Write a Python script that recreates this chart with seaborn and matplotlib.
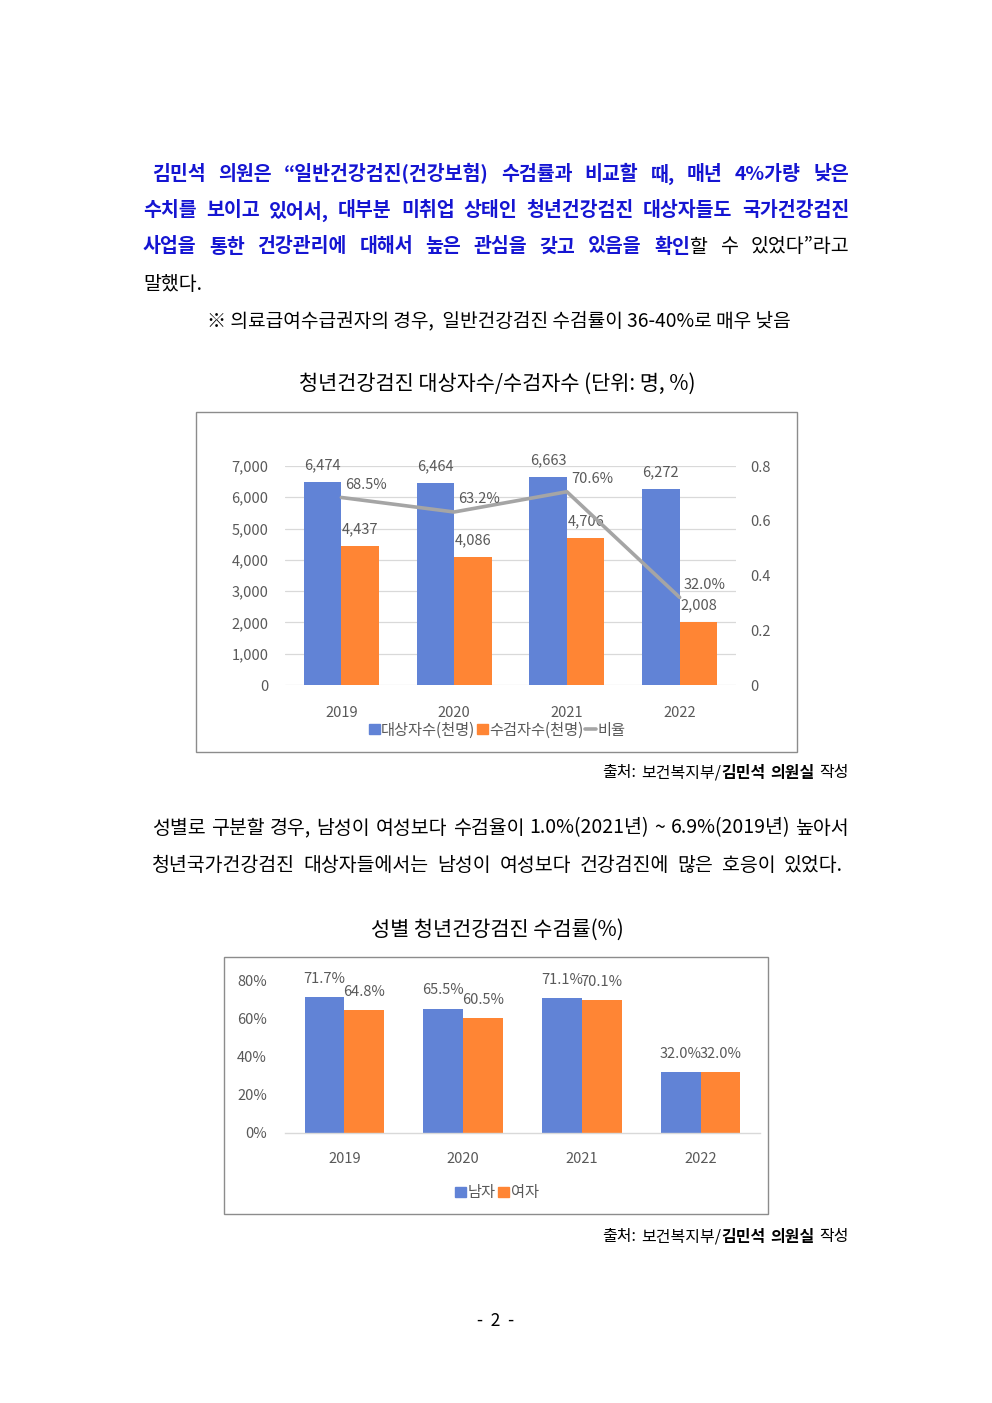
import numpy as np
import pandas as pd
import matplotlib
matplotlib.use('Agg')
import matplotlib.pyplot as plt
import seaborn as sns
from matplotlib.patches import Rectangle, Patch
from matplotlib.lines import Line2D
from matplotlib.ticker import FuncFormatter, PercentFormatter

# ---------------- data ----------------
years = ['2019', '2020', '2021', '2022']
targets = [6474, 6464, 6663, 6272]          # 대상자수(천명)
examined = [4437, 4086, 4706, 2008]         # 수검자수(천명)
ratio = [0.685, 0.632, 0.706, 0.320]        # 비율
series1 = ['대상자수(천명)', '수검자수(천명)']
ratio_name = '비율'
left_ticks = [0, 1000, 2000, 3000, 4000, 5000, 6000, 7000]
right_ticks = [0, 0.2, 0.4, 0.6, 0.8]

male_rate = [0.717, 0.655, 0.711, 0.320]
female_rate = [0.648, 0.605, 0.701, 0.320]
series2 = ['남자', '여자']
pct_ticks = [0, 0.2, 0.4, 0.6, 0.8]

# ---------------- style ----------------
W, H = 992, 1403
BLUE = '#6183D6'
ORANGE = '#FF8534'
GREY_LINE = '#A5A5A5'
TXT = '#595959'
TEXT_BLUE = '#1515D2'
CF = 10.5     # chart font size
LF = 11       # legend font size

sns.set_theme(style='white')
plt.rcParams['font.family'] = ['Noto Sans CJK KR', 'DejaVu Sans']

fig = plt.figure(figsize=(W / 100, H / 100), dpi=100)
fig.patch.set_facecolor('white')


def fx(x):
    return x / W


def fy(y):
    return 1 - y / H


def add_ax(l, t, r, b):
    return fig.add_axes([fx(l), fy(b), (r - l) / W, (b - t) / H])


def box(l, t, r, b):
    fig.add_artist(Rectangle((fx(l), fy(b)), (r - l) / W, (b - t) / H,
                             transform=fig.transFigure, fill=False,
                             ec='#8C8C8C', lw=1.0))


# ---------------- chart 1 ----------------
df1 = pd.DataFrame({'year': years * 2,
                    'value': targets + examined,
                    'series': [series1[0]] * 4 + [series1[1]] * 4})
ax1 = add_ax(285, 466, 736, 685)
sns.barplot(data=df1, x='year', y='value', hue='series', palette=[BLUE, ORANGE],
            width=0.667, saturation=1, ax=ax1, legend=False, edgecolor='none')
ax1.set_ylim(0, 7000)
ax1.set_yticks(left_ticks)
ax1.yaxis.set_major_formatter(FuncFormatter(lambda v, p: f'{v:,.0f}'))
ax1.yaxis.grid(True, color='#D9D9D9', lw=0.9)
ax1.set_axisbelow(True)
for s in ax1.spines.values():
    s.set_visible(False)
ax1.set_xlabel('')
ax1.set_ylabel('')
ax1.tick_params(axis='y', length=0, labelsize=CF, colors=TXT, pad=12)
ax1.tick_params(axis='x', length=0, labelsize=CF, colors=TXT, pad=15)
for cont, vals in zip(ax1.containers, [targets, examined]):
    ax1.bar_label(cont, labels=[f'{v:,}' for v in vals], padding=7,
                  fontsize=CF, color=TXT)

ax2 = ax1.twinx()
sns.lineplot(x=np.arange(len(years)), y=ratio, ax=ax2, color=GREY_LINE, lw=2.6)
ax2.set_ylim(0, 0.8)
ax2.set_yticks(right_ticks)
ax2.yaxis.set_major_formatter(FuncFormatter(lambda v, p: f'{v:g}'))
for s in ax2.spines.values():
    s.set_visible(False)
ax2.set_ylabel('')
ax2.grid(False)
ax2.tick_params(axis='y', length=0, labelsize=CF, colors=TXT, pad=10)
for i, r in enumerate(ratio):
    ax2.annotate(f'{r * 100:.1f}%', (i, r), xytext=(3, 9), textcoords='offset points',
                 ha='left', va='center', fontsize=CF, color=TXT)
ax1.set_xlim(-0.5, 3.5)

handles1 = [Patch(color=BLUE), Patch(color=ORANGE), Line2D([], [], color=GREY_LINE, lw=2.6)]
fig.legend(handles1, series1 + [ratio_name], loc='center',
           bbox_to_anchor=(fx(497), fy(730)), bbox_transform=fig.transFigure,
           ncol=3, frameon=False, fontsize=LF, labelcolor=TXT,
           handlelength=0.7, handleheight=0.6, handletextpad=0.1, columnspacing=0.1)
box(196, 412, 797, 752)

# ---------------- chart 2 ----------------
df2 = pd.DataFrame({'year': years * 2,
                    'rate': male_rate + female_rate,
                    'sex': [series2[0]] * 4 + [series2[1]] * 4})
ax3 = add_ax(285, 981, 760, 1133)
sns.barplot(data=df2, x='year', y='rate', hue='sex', palette=[BLUE, ORANGE],
            width=0.67, saturation=1, ax=ax3, legend=False, edgecolor='none')
ax3.set_ylim(0, 0.8)
ax3.set_xlim(-0.5, 3.5)
ax3.set_yticks(pct_ticks)
ax3.yaxis.set_major_formatter(PercentFormatter(1, decimals=0))
ax3.grid(False)
for k, s in ax3.spines.items():
    s.set_visible(k == 'bottom')
ax3.spines['bottom'].set_color('#D9D9D9')
ax3.spines['bottom'].set_linewidth(1.0)
ax3.set_xlabel('')
ax3.set_ylabel('')
ax3.tick_params(axis='y', length=0, labelsize=CF, colors=TXT, pad=13)
ax3.tick_params(axis='x', length=0, labelsize=CF, colors=TXT, pad=14)
for cont, vals in zip(ax3.containers, [male_rate, female_rate]):
    ax3.bar_label(cont, labels=[f'{v * 100:.1f}%' for v in vals], padding=8,
                  fontsize=CF, color=TXT)
handles2 = [Patch(color=BLUE), Patch(color=ORANGE)]
fig.legend(handles2, series2, loc='center',
           bbox_to_anchor=(fx(497), fy(1193)), bbox_transform=fig.transFigure,
           ncol=2, frameon=False, fontsize=LF, labelcolor=TXT,
           handlelength=0.7, handleheight=0.6, handletextpad=0.15, columnspacing=0.15)
box(224, 957, 768, 1214)

# ---------------- page text ----------------
renderer = fig.canvas.get_renderer()
BODY = 14
B = dict(color=TEXT_BLUE, fontweight='bold')
N = dict(color='black')
BK = dict(color='black', fontweight='bold')


def measure(s, size, st):
    t = fig.text(0, 0, s, fontsize=size, **st)
    w = t.get_window_extent(renderer).width
    t.remove()
    return w


def line(words, y, x0, x1=None, size=BODY, align='justify', gap=6):
    widths = [[measure(p, size, st) for p, st in w] for w in words]
    total = sum(sum(ws) for ws in widths)
    n = len(words)
    if align == 'justify' and n > 1:
        g = (x1 - x0 - total) / (n - 1)
        x = x0
    elif align == 'right':
        g = gap
        x = x0 - (total + gap * (n - 1))
    else:
        g = gap
        x = x0
    for w, ws in zip(words, widths):
        for (p, st), pw in zip(w, ws):
            fig.text(fx(x), fy(y), p, ha='left', va='center', fontsize=size, **st)
            x += pw
        x += g


def simple(text, st):
    return [[(w, st)] for w in text.split()]


line(simple('김민석 의원은 “일반건강검진(건강보험) 수검률과 비교할 때, 매년 4%가량 낮은', B),
     174, 152, 849)
line(simple('수치를 보이고 있어서, 대부분 미취업 상태인 청년건강검진 대상자들도 국가건강검진', B),
     211, 143, 849)
line(simple('사업을 통한 건강관리에 대해서 높은 관심을 갖고 있음을', B)
     + [[('확인', B), ('할', N)]] + simple('수 있었다”라고', N),
     247, 143, 849)
line(simple('말했다.', N), 285, 143, align='left')
fig.text(fx(499), fy(321), '※ 의료급여수급권자의 경우,  일반건강검진 수검률이 36-40%로 매우 낮음',
         ha='center', va='center', fontsize=13.8, color='black')

fig.text(fx(497), fy(384), '청년건강검진 대상자수/수검자수 (단위: 명, %)',
         ha='center', va='center', fontsize=15, color='black')

src = [[('출처:', N)], [('보건복지부/', N), ('김민석', BK)], [('의원실', BK)], [('작성', N)]]
line(src, 773, 849, size=11.5, align='right', gap=5)

line(simple('성별로 구분할 경우, 남성이 여성보다 수검율이 1.0%(2021년) ~ 6.9%(2019년) 높아서', N),
     828, 152, 849)
line(simple('청년국가건강검진 대상자들에서는 남성이 여성보다 건강검진에 많은 호응이 있었다.', N),
     865, 152, 843)

fig.text(fx(497), fy(930), '성별 청년건강검진 수검률(%)',
         ha='center', va='center', fontsize=15, color='black')
line(src, 1237, 849, size=11.5, align='right', gap=5)

fig.text(fx(496), fy(1321), '-  2  -', ha='center', va='center', fontsize=12.5, color='black')

fig.savefig('out.png', dpi=100, facecolor='white')
